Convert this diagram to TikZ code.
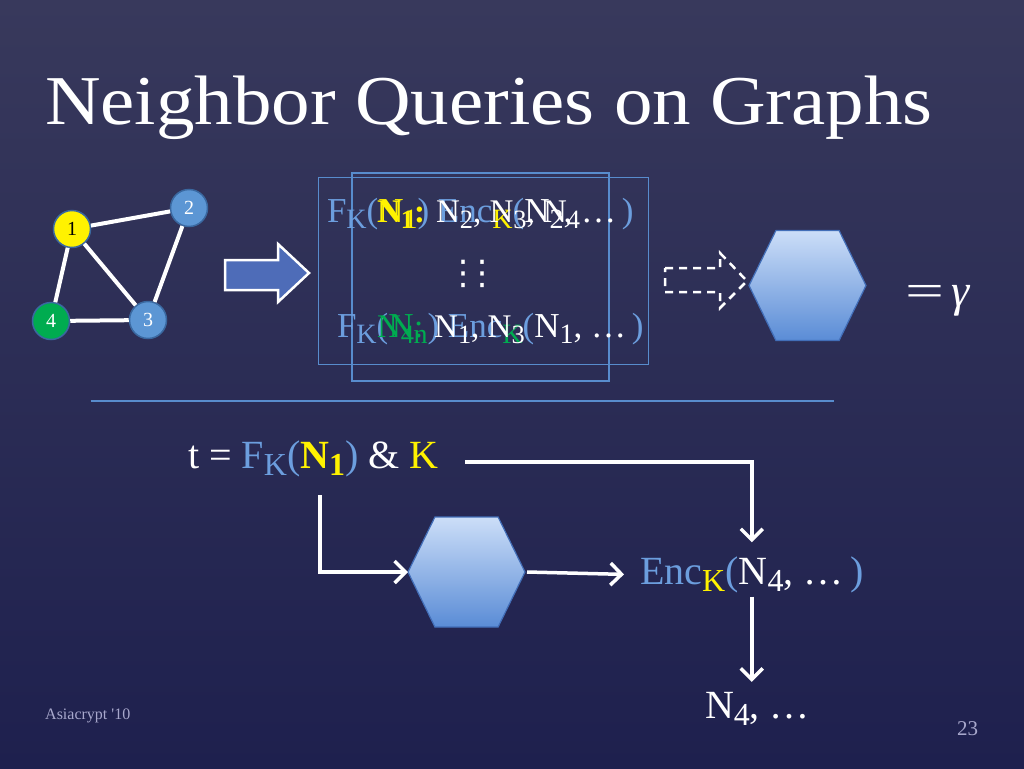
\documentclass[tikz,border=0pt]{standalone}
\usepackage{fontspec}
\setmainfont{Liberation Serif}
\newfontfamily\symfont{DejaVu Sans}
\usetikzlibrary{arrows.meta,calc}

\newlength{\du}
\setlength{\du}{1pt}

\definecolor{slidetop}{RGB}{56,57,92}
\definecolor{slidebot}{RGB}{30,32,78}
\definecolor{keyblue}{RGB}{108,158,222}
\definecolor{paneline}{RGB}{88,140,205}
\definecolor{nodeblue}{RGB}{92,150,212}
\definecolor{nodering}{RGB}{58,104,160}
\definecolor{nodegreen}{RGB}{0,172,80}
\definecolor{hiyellow}{RGB}{255,242,0}
\definecolor{hextop}{RGB}{204,222,248}
\definecolor{hexbot}{RGB}{90,140,214}
\definecolor{hexline}{RGB}{66,110,184}
\definecolor{arrowfill}{RGB}{78,108,184}
\definecolor{footgray}{RGB}{168,168,204}

\newcommand{\lo}[1]{\raisebox{-0.42ex}{\scalebox{0.8}{#1}}}
\newcommand{\inblue}[1]{\textcolor{keyblue}{#1}}
\newcommand{\inyellow}[1]{\textcolor{hiyellow}{#1}}
\newcommand{\ingreen}[1]{\textcolor{nodegreen}{#1}}

\tikzset{
  vtx/.style={circle, draw=nodering, line width=1.5\du, minimum size=37\du,
    inner sep=0pt, font=\fontsize{20}{20}\selectfont},
  edge/.style={white, line width=4\du},
  flow/.style={white, line width=3.5\du, -{Straight Barb[length=11pt,width=22pt]}},
  pane/.style={draw=paneline, line width=1.2\du, inner sep=0pt},
  row/.style={anchor=base west, inner sep=0pt, outer sep=0pt, text=white,
    font=\fontsize{35}{35}\selectfont},
  bigrow/.style={row, font=\fontsize{40}{40}\selectfont},
}

% hexagon: name, x, y
\newcommand{\hexbox}[3]{%
  \node[minimum width=117\du, minimum height=110\du, inner sep=0pt, outer sep=0pt] (#1) at (#2,#3) {};
  \shade[top color=hextop, bottom color=hexbot, draw=hexline, line width=1.2\du]
    (#1.west) -- ($(#1.north west)!0.23!(#1.north east)$)
    -- ($(#1.north west)!0.77!(#1.north east)$) -- (#1.east)
    -- ($(#1.south west)!0.77!(#1.south east)$)
    -- ($(#1.south west)!0.23!(#1.south east)$) -- cycle;
}

\begin{document}
\begin{tikzpicture}[x=1\du,y=-1\du]
\useasboundingbox (0,0) rectangle (1024,768);
\shade[top color=slidetop, bottom color=slidebot] (0,0) rectangle (1024,768);

\node[anchor=base west, inner sep=0pt, text=white] (title) at (45,124)
  {\scalebox{1.1}[1]{\fontsize{70}{70}\selectfont Neighbor Queries on Graphs}};

% the graph
\node[vtx, fill=hiyellow, text=black] (g1) at (72,229) {1};
\node[vtx, fill=nodeblue, text=white] (g2) at (189,208) {2};
\node[vtx, fill=nodeblue, text=white] (g3) at (148,320) {3};
\node[vtx, fill=nodegreen, text=white] (g4) at (51,321) {4};
\draw[edge] (g1) -- (g2);
\draw[edge] (g1) -- (g3);
\draw[edge] (g1) -- (g4);
\draw[edge] (g2) -- (g3);
\draw[edge] (g3) -- (g4);

% block arrow
\draw[fill=arrowfill, draw=white, line width=2.5\du, line join=miter]
  (225,260) -- (278,260) -- (278,244) -- (309,273) -- (278,302) -- (278,290) -- (225,290) -- cycle;

% encrypted table, two frames on top of each other
\node[pane, minimum width=330\du, minimum height=187\du] (paneA) at (483.5,271) {};
\node[pane, minimum width=257\du, minimum height=208\du] (paneB) at (480.5,277) {};

\node[row] (rowA1) at (327,222)
  {\inblue{F\lo{K}(}\inyellow{N\lo{1}}\inblue{) Enc\lo{\inyellow{K}}(}N\lo{2}, …\,\inblue{)}};
\node[row, font=\fontsize{33}{33}\selectfont] (rowB1) at (377,222)
  {\inyellow{\bfseries N\lo{1}:} N\lo{2}, N\lo{3}, N\lo{4}};
\node[text=white, inner sep=0pt, font=\symfont\fontsize{34}{34}\selectfont] (dotsA) at (463,274) {⋮};
\node[text=white, inner sep=0pt, font=\symfont\fontsize{34}{34}\selectfont] (dotsB) at (482,274) {⋮};
\node[row] (rowA2) at (337,337)
  {\inblue{F\lo{K}(}\ingreen{N\lo{n}}\inblue{) Enc\lo{\ingreen{K}}(}N\lo{1}, …\,\inblue{)}};
\node[row, font=\fontsize{33}{33}\selectfont] (rowB2) at (377,337)
  {\ingreen{N\lo{4}:} N\lo{1}, N\lo{3}};

% dashed arrow, hexagon and result
\draw[white, line width=2.5\du, dash pattern=on 8\du off 6\du, line join=miter]
  (665,268) -- (720,268) -- (720,253) -- (747,281) -- (720,308) -- (720,292) -- (665,292) -- cycle;
\hexbox{hexA}{807.5}{285.5}
\node[anchor=base west, inner sep=0pt, text=white, font=\fontsize{46}{46}\selectfont] (gam) at (905,306)
  {\scalebox{1.5}[1]{=}\,\textit{γ}};

\node[inner sep=0pt] (ruleL) at (90,401) {};
\node[inner sep=0pt] (ruleR) at (835,401) {};
\draw[paneline, line width=1.2\du] (ruleL) -- (ruleR);

% query
\node[row, font=\fontsize{40}{40}\selectfont] (tq) at (188,468)
  {t = \inblue{F\lo{K}(}\inyellow{\bfseries N\lo{1}}\inblue{)} \& \inyellow{K}};
\hexbox{hexB}{466.5}{572}
\node[bigrow] (encq) at (640,584)
  {\inblue{Enc}\lo{\inyellow{K}}\inblue{(}N\lo{4}, …\,\inblue{)}};
\node[bigrow] (n4q) at (705,718) {N\lo{4}, …};

\coordinate (kout) at (465,462);
\coordinate (tfoot) at (320,495);
\draw[flow] (kout) -| ([yshift=14\du]encq.north);
\draw[flow] (tfoot) |- (hexB.west);
\draw[flow] ([xshift=2\du]hexB.east) -- ([xshift=-16\du]encq.west);
\draw[flow] ([yshift=-4\du]encq.south) -- ([yshift=10\du]encq.south |- n4q.north);

% footer
\node[anchor=base west, inner sep=0pt, text=footgray, font=\fontsize{16}{16}\selectfont] (venue) at (45,719)
  {Asiacrypt \textquotesingle10};
\node[anchor=base west, inner sep=0pt, text=footgray, font=\fontsize{21}{21}\selectfont] (pageno) at (957,735)
  {23};
\end{tikzpicture}
\end{document}
